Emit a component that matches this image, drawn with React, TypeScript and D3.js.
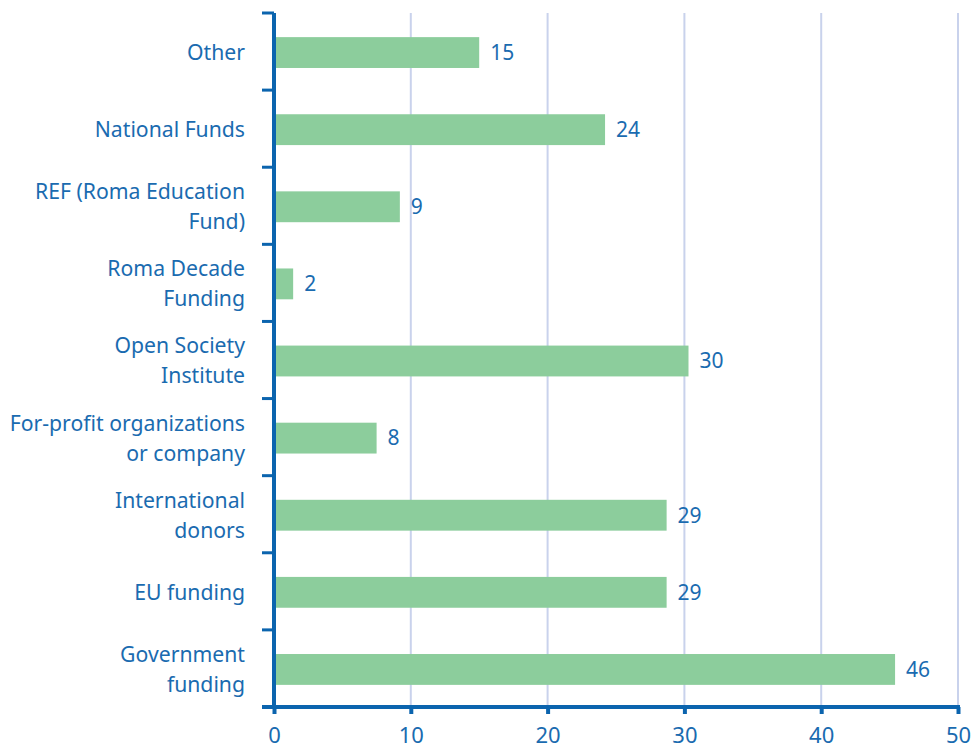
import { useEffect, useRef } from "react";
import * as d3 from "d3";

// categories top -> bottom, each label split into lines
const categories = [
  ["Other"],
  ["National Funds"],
  ["REF (Roma Education", "Fund)"],
  ["Roma Decade", "Funding"],
  ["Open Society", "Institute"],
  ["For-profit organizations", "or company"],
  ["International", "donors"],
  ["EU funding"],
  ["Government", "funding"],
];
// bar lengths
const values = [15, 24.2, 9.2, 1.4, 30.3, 7.5, 28.7, 28.7, 45.4];
// labels printed next to bars
const valueLabels = ["15", "24", "9", "2", "30", "8", "29", "29", "46"];
const xTicks = [0, 10, 20, 30, 40, 50];

const BLUE = "#0b64ae";
const TEXT = "#1a6bb0";
const GREEN = "#8ccd9c";
const GRID = "#c9d2ec";

export default function App() {
  const svgRef = useRef<SVGSVGElement | null>(null);
  const width = 972;
  const height = 748;

  useEffect(() => {
    const margin = { top: 13, right: 14, bottom: 41, left: 274 };
    const svg = d3.select(svgRef.current);
    svg.selectAll("*").remove();

    const x = d3
      .scaleLinear()
      .domain([0, 50])
      .range([margin.left, width - margin.right]);
    const y = d3
      .scaleBand<number>()
      .domain(d3.range(categories.length))
      .range([margin.top, height - margin.bottom])
      .paddingInner(0.6)
      .paddingOuter(0.3);
    const step = y.step();
    const y0 = margin.top;
    const yEnd = height - margin.bottom;

    // gridlines
    svg
      .append("g")
      .selectAll("line")
      .data(xTicks.filter((d) => d > 0))
      .join("line")
      .attr("x1", (d) => x(d))
      .attr("x2", (d) => x(d))
      .attr("y1", y0)
      .attr("y2", yEnd)
      .attr("stroke", GRID)
      .attr("stroke-width", 2);

    // bars
    svg
      .append("g")
      .selectAll("rect")
      .data(values)
      .join("rect")
      .attr("x", x(0))
      .attr("y", (_, i) => y(i)! + 1)
      .attr("width", (d) => x(d) - x(0))
      .attr("height", y.bandwidth())
      .attr("fill", GREEN);

    // value labels
    svg
      .append("g")
      .selectAll("text")
      .data(values)
      .join("text")
      .attr("x", (d) => x(d) + 11)
      .attr("y", (_, i) => y(i)! + y.bandwidth() / 2 + 1)
      .attr("dy", "0.35em")
      .attr("font-family", "Noto Sans, sans-serif")
      .attr("font-size", 21)
      .attr("fill", TEXT)
      .text((_, i) => valueLabels[i]);

    // y axis line + band ticks
    svg
      .append("line")
      .attr("x1", x(0))
      .attr("x2", x(0))
      .attr("y1", y0)
      .attr("y2", yEnd)
      .attr("stroke", BLUE)
      .attr("stroke-width", 4);
    svg
      .append("g")
      .selectAll("line")
      .data(d3.range(categories.length + 1))
      .join("line")
      .attr("x1", x(0) - 12)
      .attr("x2", x(0))
      .attr("y1", (i) => y0 + i * step)
      .attr("y2", (i) => y0 + i * step)
      .attr("stroke", BLUE)
      .attr("stroke-width", 3);

    // x axis
    const xAxis = d3
      .axisBottom(x)
      .tickValues(xTicks)
      .tickSize(7)
      .tickPadding(13)
      .tickFormat(d3.format("d"));
    const gx = svg
      .append("g")
      .attr("transform", `translate(0,${yEnd})`)
      .call(xAxis);
    gx.select(".domain")
      .attr("stroke", BLUE)
      .attr("stroke-width", 4)
      .attr("d", `M${x(0) - 12},0H${x(50) + 2}`);
    gx.selectAll(".tick line").attr("stroke", BLUE).attr("stroke-width", 4);
    gx.selectAll(".tick text")
      .attr("fill", TEXT)
      .attr("font-family", "Noto Sans, sans-serif")
      .attr("font-size", 22);

    // category labels
    const labels = svg
      .append("g")
      .selectAll("text")
      .data(categories)
      .join("text")
      .attr("text-anchor", "end")
      .attr("font-family", "Noto Sans, sans-serif")
      .attr("font-size", 21.2)
      .attr("fill", TEXT)
      .attr("y", (d, i) => y(i)! + y.bandwidth() / 2 + 1 - ((d.length - 1) * 30) / 2);
    labels
      .selectAll("tspan")
      .data((d) => d)
      .join("tspan")
      .attr("x", 245)
      .attr("dy", (_, j) => (j === 0 ? "0.35em" : "30"))
      .text((t) => t);
  }, []);

  return (
    <svg
      ref={svgRef}
      width={width}
      height={height}
      style={{ position: "absolute", left: 0, top: 0, background: "#fff" }}
    />
  );
}
